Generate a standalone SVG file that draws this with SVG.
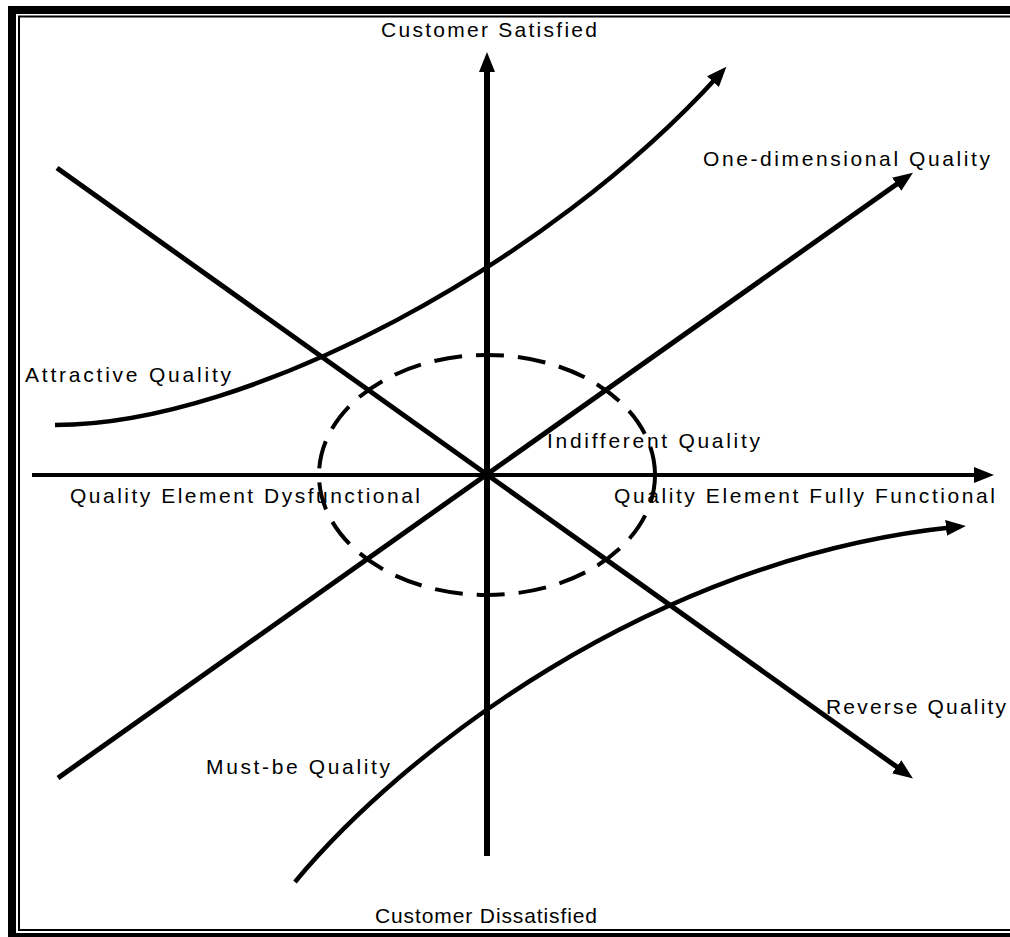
<svg xmlns="http://www.w3.org/2000/svg" width="1010" height="937" viewBox="0 0 1010 937">
<style>
.lbl{font-family:"Liberation Sans",Arial,sans-serif;font-size:21px;fill:#000}
.ln{fill:none;stroke:#000;stroke-linecap:butt}
</style>
<defs>
<marker id="ah" markerUnits="userSpaceOnUse" markerWidth="20" markerHeight="16" viewBox="0 0 20 16" refX="9" refY="8" orient="auto">
<path d="M0,0 L20,8 L0,16 z" fill="#000"/>
</marker>
</defs>
<rect x="0" y="0" width="1010" height="937" fill="#fff"/>
<g id="frame">
<rect x="12" y="10" width="1010" height="927" fill="none" stroke="#000" stroke-width="8"/>
<rect x="19" y="16.5" width="1010" height="913.5" fill="none" stroke="#000" stroke-width="2"/>
</g>
<g id="connectors">
<path class="ln" d="M487,856 L487,63" stroke-width="6" marker-end="url(#ah)"/>
<path class="ln" d="M32,475 L983,475" stroke-width="4" marker-end="url(#ah)"/>
<path class="ln" d="M57,168 L904,772" stroke-width="5" marker-end="url(#ah)"/>
<path class="ln" d="M58,778 L904,179" stroke-width="5" marker-end="url(#ah)"/>
<path class="ln" d="M55,425 C250,425 550,262 719,75" stroke-width="4.5" marker-end="url(#ah)"/>
<path class="ln" d="M295,882 C400,755 650,558 955,527" stroke-width="4.5" marker-end="url(#ah)"/>
<ellipse class="ln" cx="487" cy="475" rx="168" ry="120" stroke-width="4" stroke-dasharray="28 14"/>
</g>
<g id="customer-satisfied"><text class="lbl" x="381" y="37" textLength="216" lengthAdjust="spacing">Customer Satisfied</text></g>
<g id="one-dimensional"><text class="lbl" x="703" y="166" textLength="287" lengthAdjust="spacing">One-dimensional Quality</text></g>
<g id="attractive"><text class="lbl" x="25" y="382" textLength="206" lengthAdjust="spacing">Attractive Quality</text></g>
<g id="indifferent"><text class="lbl" x="547" y="448" textLength="213" lengthAdjust="spacing">Indifferent Quality</text></g>
<g id="dysfunctional"><text class="lbl" x="70" y="503" textLength="350" lengthAdjust="spacing">Quality Element Dysfunctional</text></g>
<g id="fully-functional"><text class="lbl" x="614" y="503" textLength="381" lengthAdjust="spacing">Quality Element Fully Functional</text></g>
<g id="reverse"><text class="lbl" x="826" y="714" textLength="180" lengthAdjust="spacing">Reverse Quality</text></g>
<g id="must-be"><text class="lbl" x="206" y="774" textLength="184" lengthAdjust="spacing">Must-be Quality</text></g>
<g id="customer-dissatisfied"><text class="lbl" x="375" y="923" textLength="222" lengthAdjust="spacing">Customer Dissatisfied</text></g>
</svg>
